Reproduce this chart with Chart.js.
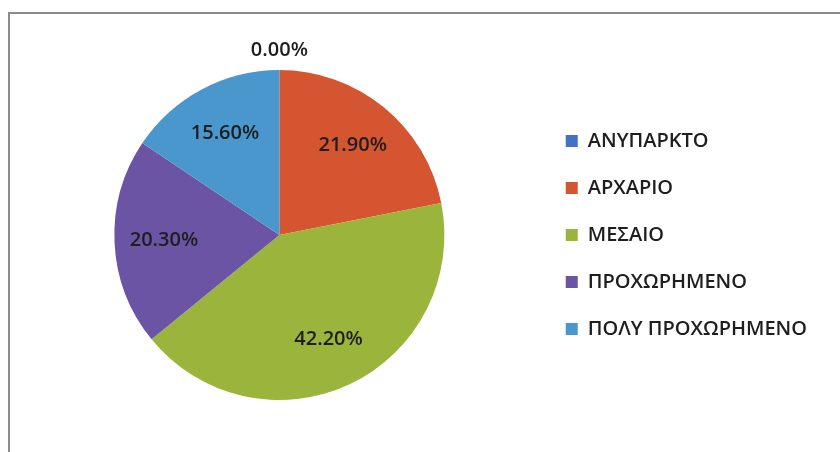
<!DOCTYPE html>
<html>
<head>
<meta charset="utf-8">
<script src="https://cdn.jsdelivr.net/npm/chart.js@4/dist/chart.umd.min.js"></script>
<style>
  html, body { margin: 0; padding: 0; background: #fff; }
  #wrap { position: relative; width: 840px; height: 452px; overflow: hidden; }
  #frame { position: absolute; left: 8px; top: 12px; width: 900px; height: 500px; border: 2px solid #8c8c8c; box-sizing: border-box; }
  #pie { position: absolute; left: 0; top: 0; }
</style>
</head>
<body>
<div id="wrap">
  <div id="frame"></div>
  <canvas id="pie" width="840" height="452"></canvas>
</div>
<script>
// categories and shares (percent)
const levels = ["ΑΝΥΠΑΡΚΤΟ", "ΑΡΧΑΡΙΟ", "ΜΕΣΑΙΟ", "ΠΡΟΧΩΡΗΜΕΝΟ", "ΠΟΛΥ ΠΡΟΧΩΡΗΜΕΝΟ"];
const shares = [0.0, 21.9, 42.2, 20.3, 15.6];
const sliceColors = ["#4470c6", "#d4552f", "#9bb43c", "#6b54a4", "#4a97cd"];

const FONT = "'Open Sans', 'Noto Sans', sans-serif";

// percent labels drawn on / around each slice
const pctLabels = {
  id: "pctLabels",
  afterDatasetsDraw(chart) {
    const ctx = chart.ctx;
    const meta = chart.getDatasetMeta(0);
    ctx.save();
    ctx.font = "600 20px " + FONT;
    ctx.fillStyle = "#1e1e1e";
    ctx.textAlign = "center";
    ctx.textBaseline = "middle";
    meta.data.forEach((arc, i) => {
      const v = chart.data.datasets[0].data[i];
      const mid = (arc.startAngle + arc.endAngle) / 2;
      const r = v === 0 ? arc.outerRadius + 20 : arc.outerRadius * 0.7;
      const x = arc.x + Math.cos(mid) * r;
      const y = arc.y + Math.sin(mid) * r;
      ctx.fillText(v.toFixed(2) + "%", x, y);
    });
    ctx.restore();
  }
};

new Chart(document.getElementById("pie"), {
  type: "pie",
  data: {
    labels: levels,
    datasets: [{
      data: shares,
      backgroundColor: sliceColors,
      borderWidth: 0,
    }]
  },
  options: {
    responsive: false,
    animation: false,
    events: [],
    layout: { padding: { top: 70, bottom: 52, left: 20, right: 23 } },
    plugins: {
      tooltip: { enabled: false },
      legend: {
        position: "right",
        labels: {
          boxWidth: 12,
          boxHeight: 12,
          padding: 27,
          color: "#1e1e1e",
          font: { size: 20, weight: "600", family: FONT },
        }
      }
    }
  },
  plugins: [pctLabels]
});
</script>
</body>
</html>
